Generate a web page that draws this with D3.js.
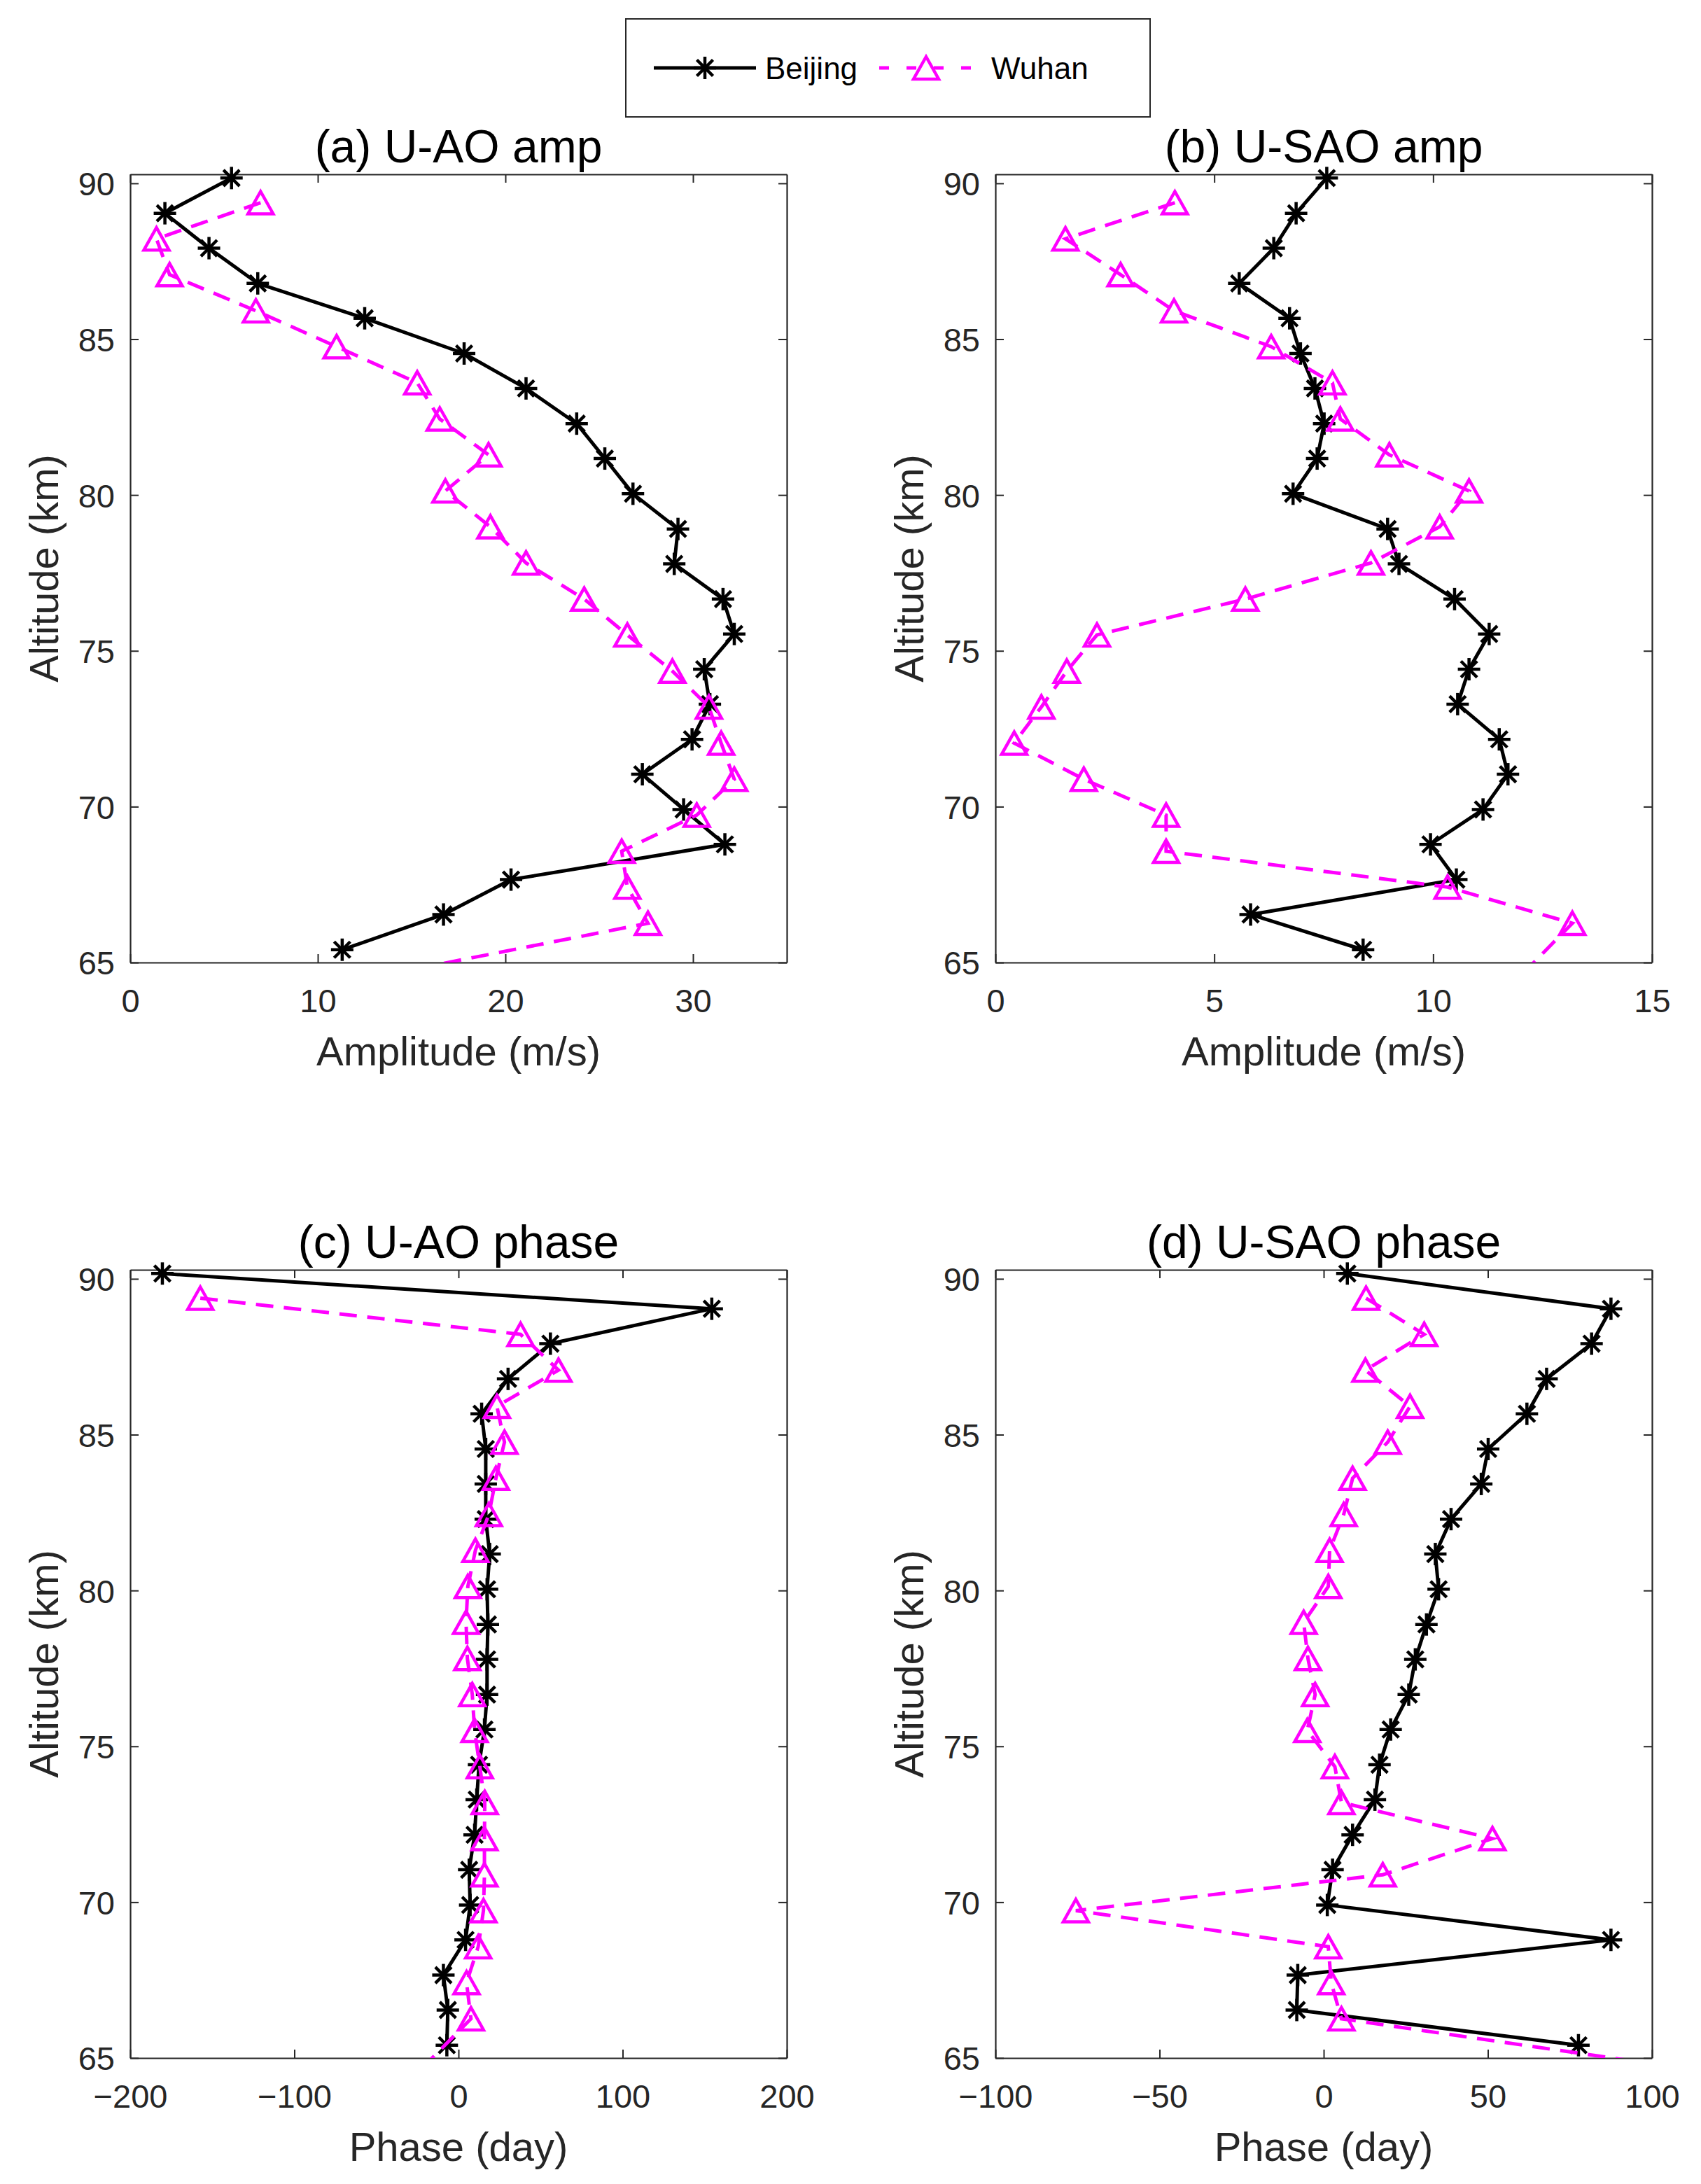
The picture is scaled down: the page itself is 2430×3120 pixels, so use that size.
<!DOCTYPE html>
<html>
<head>
<meta charset="utf-8">
<script src="https://cdn.jsdelivr.net/npm/d3@7"></script>
<style>
  body { margin: 0; background: #fff; }
  svg text { font-family: "Liberation Sans", Arial, Helvetica, sans-serif; }
</style>
</head>
<body>
<div id="chart"></div>
<script>
// altitudes (km), top to bottom
const altBeijing = [90.17, 89.04, 87.92, 86.79, 85.67, 84.54, 83.42, 82.29, 81.17, 80.04, 78.91, 77.79,
  76.66, 75.54, 74.41, 73.29, 72.16, 71.04, 69.91, 68.79, 67.66, 66.54, 65.41];
const altWuhan = [89.38, 88.22, 87.07, 85.91, 84.76, 83.60, 82.44, 81.29, 80.13, 78.98, 77.82,
  76.66, 75.51, 74.35, 73.20, 72.04, 70.88, 69.73, 68.57, 67.42, 66.26, 64.50];

// (a) U-AO amplitude (m/s)
const uaoAmpBeijing = [5.4, 1.85, 4.2, 6.8, 12.5, 17.8, 21.1, 23.8, 25.3, 26.8, 29.2, 29.0, 31.6, 32.2,
  30.6, 30.9, 29.95, 27.3, 29.5, 31.7, 20.3, 16.7, 11.3];
const uaoAmpWuhan = [6.95, 1.4, 2.1, 6.7, 11.0, 15.3, 16.5, 19.1, 16.8, 19.2, 21.1, 24.2, 26.5, 28.9,
  30.85, 31.5, 32.2, 30.2, 26.2, 26.5, 27.6, 12.7];

// (b) U-SAO amplitude (m/s)
const usaoAmpBeijing = [7.57, 6.87, 6.36, 5.57, 6.72, 6.97, 7.3, 7.51, 7.35, 6.8, 8.96, 9.22, 10.49, 11.28,
  10.82, 10.56, 11.51, 11.71, 11.14, 9.94, 10.53, 5.83, 8.4];
const usaoAmpWuhan = [4.1, 1.6, 2.86, 4.08, 6.3, 7.7, 7.88, 9.0, 10.82, 10.15, 8.58, 5.71, 2.32, 1.63,
  1.05, 0.43, 2.02, 3.9, 3.9, 10.33, 13.18, 11.95];

// (c) U-AO phase (day)
const uaoPhaseBeijing = [-180.4, 154.3, 56, 30.2, 14.1, 16.6, 16.6, 16.6, 19, 17.4, 17.9, 17.4, 17.4, 15.8,
  12.5, 11.1, 9.8, 6.5, 7.1, 4.3, -9.2, -6.5, -7.1];
const uaoPhaseWuhan = [-157.3, 37.8, 60.9, 23.4, 28, 22.8, 18.5, 10.3, 5.7, 4.6, 5.4, 8.4, 9.8, 13, 16,
  15.8, 15.8, 15.2, 12, 4.9, 7.6, -25.4];

// (d) U-SAO phase (day)
const usaoPhaseBeijing = [7.2, 87.5, 81.6, 67.9, 61.9, 50.1, 48, 38.8, 34, 35, 31.3, 27.9, 25.9, 20.4, 17,
  15.6, 8.8, 2.7, 1.1, 87.5, -7.9, -8.2, 77.6];
const usaoPhaseWuhan = [12.9, 30.6, 12.7, 26.3, 19.5, 8.8, 6.1, 1.8, 1.4, -6.1, -4.8, -2.6, -5, 3.4, 5.4,
  51.4, 18, -75.5, 1.4, 2.3, 5.4, 120.5];

// ticks
const altTicks = [65, 70, 75, 80, 85, 90];
const ticksA = [0, 10, 20, 30];
const ticksB = [0, 5, 10, 15];
const ticksC = [-200, -100, 0, 100, 200];
const ticksD = [-100, -50, 0, 50, 100];

const seriesNames = ["Beijing", "Wuhan"];

const W = 2430, H = 3120;
const font = '"Liberation Sans", Arial, Helvetica, sans-serif';
const axisColor = "#262626";
const magenta = "#ff00ff";

const svg = d3.select("#chart").append("svg")
    .attr("width", W).attr("height", H)
    .attr("viewBox", `0 0 ${W} ${H}`);
svg.append("rect").attr("width", W).attr("height", H).attr("fill", "#fff");

const panels = [
  { key: "a", title: "(a) U-AO amp", xlabel: "Amplitude (m/s)", xdom: [0, 35], ticks: ticksA,
    bj: uaoAmpBeijing, wh: uaoAmpWuhan, left: 186, top: 249 },
  { key: "b", title: "(b) U-SAO amp", xlabel: "Amplitude (m/s)", xdom: [0, 15], ticks: ticksB,
    bj: usaoAmpBeijing, wh: usaoAmpWuhan, left: 1422, top: 249 },
  { key: "c", title: "(c) U-AO phase", xlabel: "Phase (day)", xdom: [-200, 200], ticks: ticksC,
    bj: uaoPhaseBeijing, wh: uaoPhaseWuhan, left: 186, top: 1814 },
  { key: "d", title: "(d) U-SAO phase", xlabel: "Phase (day)", xdom: [-100, 100], ticks: ticksD,
    bj: usaoPhaseBeijing, wh: usaoPhaseWuhan, left: 1422, top: 1814 }
];
const pw = 938, ph = 1126;

const fmt = v => (v < 0 ? "\u2212" + Math.abs(v) : String(v));

// markers
function asterisk(g, x, y, r) {
  const d = r * 0.72;
  const p = g.append("g").attr("stroke", "#000").attr("stroke-width", 4.5).attr("fill", "none");
  p.append("line").attr("x1", x).attr("y1", y - r).attr("x2", x).attr("y2", y + r);
  p.append("line").attr("x1", x - r).attr("y1", y).attr("x2", x + r).attr("y2", y);
  p.append("line").attr("x1", x - d).attr("y1", y - d).attr("x2", x + d).attr("y2", y + d);
  p.append("line").attr("x1", x - d).attr("y1", y + d).attr("x2", x + d).attr("y2", y - d);
}
function triangle(g, x, y) {
  const hw = 18, hh = 16;
  g.append("path")
    .attr("d", `M${x},${y - hh}L${x + hw},${y + hh}L${x - hw},${y + hh}Z`)
    .attr("fill", "none").attr("stroke", magenta).attr("stroke-width", 4.5)
    .attr("stroke-linejoin", "miter");
}

panels.forEach(p => {
  const x = d3.scaleLinear().domain(p.xdom).range([0, pw]);
  const y = d3.scaleLinear().domain([65, 90.29]).range([ph, 0]);
  const g = svg.append("g").attr("transform", `translate(${p.left},${p.top})`);

  g.append("clipPath").attr("id", "clip-" + p.key)
    .append("rect").attr("width", pw).attr("height", ph);

  // axes with inward ticks, box on
  const ax = [
    { a: d3.axisBottom(x).tickValues(p.ticks), t: `translate(0,${ph})`, lab: "x" },
    { a: d3.axisTop(x).tickValues(p.ticks), t: "translate(0,0)", lab: null },
    { a: d3.axisLeft(y).tickValues(altTicks), t: "translate(0,0)", lab: "y" },
    { a: d3.axisRight(y).tickValues(altTicks), t: `translate(${pw},0)`, lab: null }
  ];
  ax.forEach(o => {
    const ag = g.append("g").attr("transform", o.t)
      .call(o.a.tickSizeInner(-12).tickSizeOuter(0).tickPadding(0).tickFormat(fmt));
    ag.select(".domain").attr("stroke", axisColor).attr("stroke-width", 2.2);
    ag.selectAll(".tick line").attr("stroke", axisColor).attr("stroke-width", 2);
    const tt = ag.selectAll(".tick text");
    if (!o.lab) { tt.remove(); return; }
    tt.attr("fill", axisColor).style("font-family", font).style("font-size", "47px");
    if (o.lab === "x") tt.attr("y", 71).attr("dy", null).attr("text-anchor", "middle");
    else tt.attr("x", -22).attr("dy", "0.36em").attr("text-anchor", "end");
  });

  // lines
  const lineGen = (alts) => d3.line().x((d) => x(d)).y((d, i) => y(alts[i]));
  const plot = g.append("g").attr("clip-path", `url(#clip-${p.key})`);
  plot.append("path").datum(p.bj)
    .attr("d", lineGen(altBeijing))
    .attr("fill", "none").attr("stroke", "#000").attr("stroke-width", 5)
    .attr("stroke-linejoin", "round");

  const inside = (v, a) => v >= p.xdom[0] && v <= p.xdom[1] && a >= 65 && a <= 90.29;
  const mg = g.append("g");
  p.bj.forEach((v, i) => { if (inside(v, altBeijing[i])) asterisk(mg, x(v), y(altBeijing[i]), 16); });

  const plotW = g.append("g").attr("clip-path", `url(#clip-${p.key})`);
  plotW.append("path").datum(p.wh)
    .attr("d", lineGen(altWuhan))
    .attr("fill", "none").attr("stroke", magenta).attr("stroke-width", 5)
    .attr("stroke-dasharray", "25,15");
  const mw = g.append("g");
  p.wh.forEach((v, i) => { if (inside(v, altWuhan[i])) triangle(mw, x(v), y(altWuhan[i])); });

  // title & labels
  g.append("text").attr("x", pw / 2).attr("y", -17).attr("text-anchor", "middle")
    .style("font-size", "66px").attr("fill", "#000").text(p.title);
  g.append("text").attr("x", pw / 2).attr("y", ph + 147).attr("text-anchor", "middle")
    .style("font-size", "58px").attr("fill", axisColor).text(p.xlabel);
  g.append("text").attr("transform", `translate(-103,${ph / 2}) rotate(-90)`)
    .attr("text-anchor", "middle")
    .style("font-size", "58px").attr("fill", axisColor).text("Altitude (km)");
});

// legend
const lg = svg.append("g");
lg.append("rect").attr("x", 894).attr("y", 27).attr("width", 749).attr("height", 140)
  .attr("fill", "#fff").attr("stroke", axisColor).attr("stroke-width", 2);
lg.append("line").attr("x1", 934).attr("x2", 1080).attr("y1", 97).attr("y2", 97)
  .attr("stroke", "#000").attr("stroke-width", 5);
asterisk(lg, 1007, 97, 16);
lg.append("text").attr("x", 1093).attr("y", 113).style("font-size", "44px").attr("fill", "#000")
  .text(seriesNames[0]);
lg.append("line").attr("x1", 1256).attr("x2", 1390).attr("y1", 97).attr("y2", 97)
  .attr("stroke", magenta).attr("stroke-width", 5).attr("stroke-dasharray", "14,25");
triangle(lg, 1323, 97);
lg.append("text").attr("x", 1416).attr("y", 113).style("font-size", "44px").attr("fill", "#000")
  .text(seriesNames[1]);
</script>
</body>
</html>
